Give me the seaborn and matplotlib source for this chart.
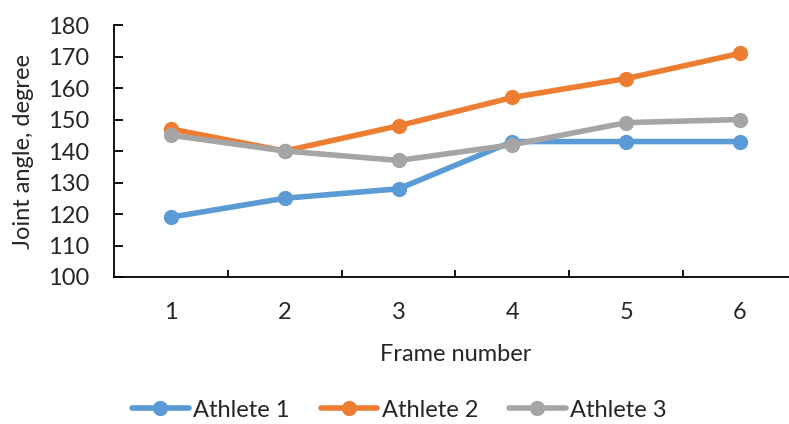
import seaborn as sns
import matplotlib.pyplot as plt
import pandas as pd

frames = [1, 2, 3, 4, 5, 6]
athlete_1 = [119, 125, 128, 143, 143, 143]
athlete_2 = [147, 140, 148, 157, 163, 171]
athlete_3 = [145, 140, 137, 142, 149, 150]
names = ["Athlete 1", "Athlete 2", "Athlete 3"]
colors = ["#5B9BD5", "#ED7D31", "#A5A5A5"]

df = pd.DataFrame({
    "frame": frames * 3,
    "angle": athlete_1 + athlete_2 + athlete_3,
    "athlete": [n for n in names for _ in frames],
})

sns.set_style("white")
plt.rcParams['font.family'] = ['Lato', 'DejaVu Sans']

fig = plt.figure(figsize=(7.89, 4.24), dpi=100)
# axis runs a bit past the right edge, like in the original
ax = fig.add_axes([0.1445, 0.3467, 0.8656, 0.5943])

sns.lineplot(data=df, x="frame", y="angle", hue="athlete", palette=colors,
             marker="o", markersize=11, markeredgewidth=0, linewidth=4,
             ax=ax, legend=True)

ax.set_xlim(0.5, 6.5)
ax.set_ylim(100, 180)
ax.set_yticks(range(100, 181, 10))
ax.set_xticks(frames)
ax.set_xticks([1.5, 2.5, 3.5, 4.5, 5.5], minor=True)
ax.tick_params(axis="x", which="major", length=0, pad=18, labelsize=17)
ax.tick_params(axis="x", which="minor", direction="in", length=5, width=1.3, color="black")
ax.tick_params(axis="y", direction="in", length=6.5, width=1.3, color="black",
               labelsize=17, pad=18)
ax.yaxis.set_ticks_position("left")
ax.xaxis.set_ticks_position("bottom")

for s in ["top", "right"]:
    ax.spines[s].set_visible(False)
for s in ["left", "bottom"]:
    ax.spines[s].set_color("black")
    ax.spines[s].set_linewidth(1.3)

ax.set_xlabel("Frame number", fontsize=17, labelpad=15)
ax.set_ylabel("Joint angle, degree", fontsize=17, labelpad=10)

ax.legend(loc="center", bbox_to_anchor=(0.418, -0.528), ncol=3, frameon=False,
          fontsize=17, handlelength=2.4, columnspacing=1.3, handletextpad=0.2)

plt.savefig("out.png", dpi=100)
